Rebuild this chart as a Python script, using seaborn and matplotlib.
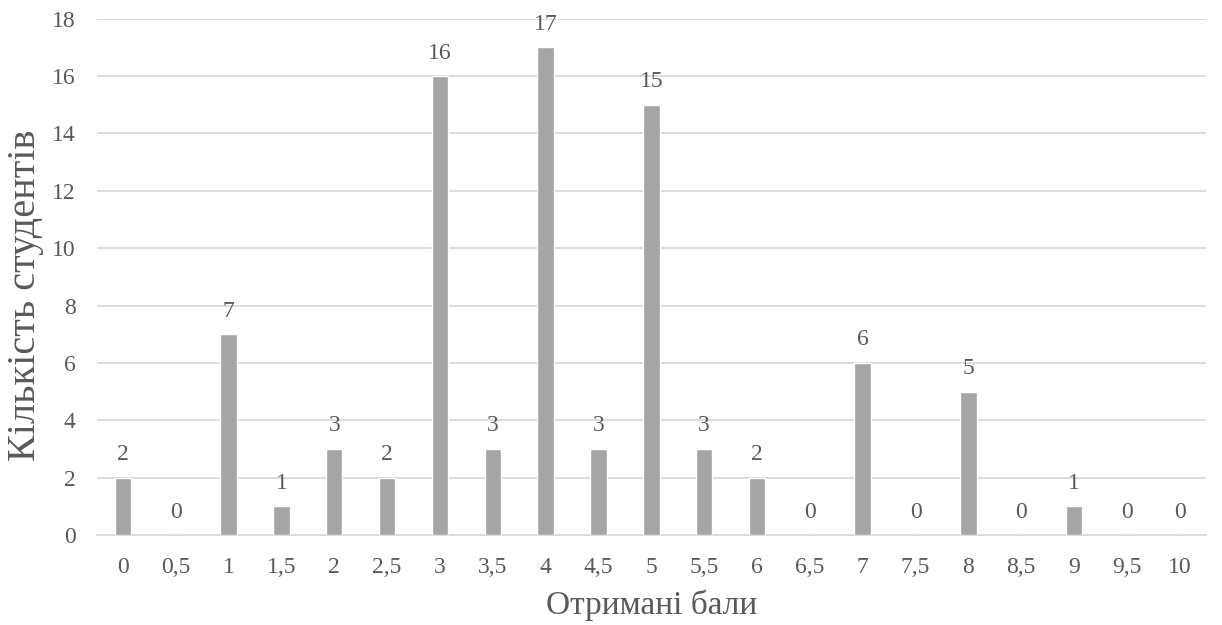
import matplotlib
matplotlib.use("Agg")
import matplotlib.pyplot as plt
import seaborn as sns
import pandas as pd

scores = ["0", "0,5", "1", "1,5", "2", "2,5", "3", "3,5", "4", "4,5", "5",
          "5,5", "6", "6,5", "7", "7,5", "8", "8,5", "9", "9,5", "10"]
students = [2, 0, 7, 1, 3, 2, 16, 3, 17, 3, 15, 3, 2, 0, 6, 0, 5, 0, 1, 0, 0]

df = pd.DataFrame({"score": scores, "count": students})

sns.set_theme(style="white")
plt.rcParams['font.family'] = ['Liberation Serif', 'DejaVu Serif']
text_col = "#595959"

fig = plt.figure(figsize=(12.22, 6.25), dpi=100)
ax = fig.add_axes([0.079, 0.144, 0.908, 0.826])
sns.barplot(data=df, x="score", y="count", color="#A5A5A5", width=0.31,
            saturation=1, ax=ax, zorder=3)

# value labels above bars
for c in ax.containers:
    ax.bar_label(c, fmt="%d", padding=9, fontsize=17, color=text_col)

ax.set_ylim(0, 18)
ax.set_yticks(range(0, 19, 2))
ax.yaxis.grid(True, color="#D9D9D9", linewidth=1.3, zorder=0)
ax.set_axisbelow(True)
for s in ["top", "right", "left"]:
    ax.spines[s].set_visible(False)
ax.spines["bottom"].set_color("#D9D9D9")
ax.spines["bottom"].set_linewidth(1.3)
ax.tick_params(axis="both", labelsize=17, labelcolor=text_col, length=0)
ax.tick_params(axis="x", pad=16)
ax.tick_params(axis="y", pad=15)

ax.set_xlabel("Отримані бали", fontsize=24, color=text_col, labelpad=8)
ax.set_ylabel("Кількість студентів", fontsize=29, color=text_col)
ax.yaxis.set_label_coords(-0.047, 0.465)

fig.savefig("out.png", dpi=100)
